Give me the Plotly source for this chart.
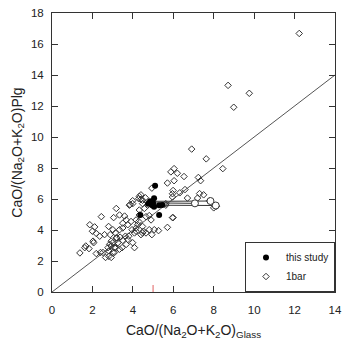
import plotly.graph_objects as go

# 1 bar experiments (open diamonds)
bar_x = [12.23, 8.71, 9.76, 8.99, 6.91, 7.63, 8.45, 6.04, 5.88, 6.2, 6.53, 7.24, 6.04, 5.71, 7.35,
         4.94, 5.99, 6.58, 6.32, 7.3, 7.5, 7.2, 4.32, 4.62, 3.99, 4.4, 6.7, 7.79, 8.14, 8.0,
         5.96, 5.96, 5.63, 5.96, 3.86, 4.29, 4.48, 4.4,
         1.38, 1.67, 1.83, 2.06, 1.87, 2.11, 2.0, 2.44, 2.19, 2.36, 2.6, 2.03, 2.52, 2.19, 2.81,
         2.65, 2.93, 2.77, 2.85, 2.93, 3.01, 3.18, 3.34, 3.05, 3.59, 3.67, 3.5, 3.91, 3.83, 2.8,
         3.01, 2.88, 3.14, 3.34, 3.5, 3.18, 3.37, 3.5, 3.01, 3.26, 2.93, 3.14, 3.34, 2.81, 3.09,
         3.67, 3.8, 4.08, 3.99, 4.08, 3.63, 3.75, 3.75, 3.96, 4.16, 4.32, 4.29, 4.48, 4.52, 4.65,
         4.81, 4.94, 5.06, 5.27, 4.81, 4.9, 4.57, 4.73, 5.63, 5.71, 5.99, 3.99, 4.48, 4.32, 4.16,
         4.65, 4.24, 4.16, 4.48, 4.4, 3.47, 3.21, 3.09, 2.4, 1.62]
bar_y = [16.68, 13.33, 12.82, 11.92, 9.22, 8.59, 7.96, 7.96, 7.75, 7.66, 7.45, 7.39, 7.18, 7.03, 7.18,
         6.7, 6.55, 6.61, 6.4, 6.35, 6.27, 6.06, 6.17, 6.08, 5.89, 5.98, 6.06, 5.89, 5.54, 5.43,
         6.13, 6.34, 5.7, 4.8, 5.64, 6.02, 5.92, 6.27,
         2.52, 2.97, 2.8, 3.18, 4.34, 4.2, 3.92, 4.86, 3.78, 3.6, 3.7, 3.28, 2.55, 2.48, 2.3,
         2.23, 2.23, 2.86, 3.07, 3.28, 2.55, 5.39, 4.97, 4.8, 4.9, 4.65, 4.44, 4.55, 5.6, 4.23,
         4.02, 3.7, 3.81, 4.02, 4.13, 3.49, 3.54, 3.33, 3.18, 3.18, 2.97, 2.86, 2.76, 2.65, 2.55,
         3.07, 3.6, 3.81, 3.18, 2.86, 3.6, 3.39, 4.34, 4.02, 4.13, 5.29, 4.55, 4.23, 3.92, 3.81,
         4.02, 3.7, 4.02, 3.96, 4.93, 4.65, 5.39, 5.6, 5.6, 4.17, 4.8, 5.7, 5.7, 4.97, 4.65,
         4.86, 4.34, 3.92, 3.81, 3.7, 2.86, 3.49, 2.86, 2.55, 2.86]

# this study (filled circles)
study_x = [5.1, 5.05, 4.85, 4.75, 4.95, 5.05, 5.3, 5.45, 5.3, 4.37, 5.0]
study_y = [6.85, 6.05, 5.85, 5.7, 5.6, 5.5, 5.6, 5.62, 4.97, 4.97, 5.75]

# tie lines from this-study points to open-circle glass compositions
tie_x0 = [4.85, 5.0, 4.95]
tie_y0 = [5.85, 5.75, 5.6]
tie_x1 = [7.84, 7.07, 8.1]
tie_y1 = [5.87, 5.72, 5.58]

# 1:1 line
line_x = [0, 14]
line_y = [0, 14]

# stray red tick mark on x axis
red_x = [5, 5]
red_y = [0, 0.45]

tie_lx, tie_ly = [], []
for a, b, c, d in zip(tie_x0, tie_y0, tie_x1, tie_y1):
    tie_lx += [a, c, None]
    tie_ly += [b, d, None]

fig = go.Figure()
fig.add_trace(go.Scatter(x=line_x, y=line_y, mode="lines",
                         line=dict(color="#555", width=1), showlegend=False, hoverinfo="skip"))
fig.add_trace(go.Scatter(x=tie_lx, y=tie_ly, mode="lines",
                         line=dict(color="#333", width=1), showlegend=False))
fig.add_trace(go.Scatter(x=bar_x, y=bar_y, mode="markers", name="1bar",
                         marker=dict(symbol="diamond-open", size=5, color="#333",
                                     line=dict(width=1, color="#333"))))
fig.add_trace(go.Scatter(x=tie_x1, y=tie_y1, mode="markers", showlegend=False,
                         marker=dict(symbol="circle", size=7, color="white",
                                     line=dict(width=1, color="#333"))))
fig.add_trace(go.Scatter(x=study_x, y=study_y, mode="markers", name="this study",
                         marker=dict(symbol="circle", size=6, color="black")))
fig.add_trace(go.Scatter(x=red_x, y=red_y, mode="lines",
                         line=dict(color="#e06060", width=1), showlegend=False))

fig.data[4].legendrank = 1
fig.data[2].legendrank = 2

axis_common = dict(
    showgrid=False, zeroline=False, showline=True, linecolor="#333", linewidth=1,
    mirror="ticks", ticks="inside", ticklen=6, tickcolor="#333", dtick=2,
    tickfont=dict(size=11.5, color="#222"),
)

fig.update_layout(
    width=349, height=343,
    margin=dict(l=52, r=12, t=7, b=51),
    paper_bgcolor="white", plot_bgcolor="white",
    font=dict(family="Liberation Sans, Arial, sans-serif", color="#222"),
    xaxis=dict(range=[0, 14], tick0=0, ticklabelstandoff=7,
               title=dict(text="CaO/(Na<sub>2</sub>O+K<sub>2</sub>O)<sub>Glass</sub>",
                          font=dict(size=14), standoff=10),
               **axis_common),
    yaxis=dict(range=[0, 18], tick0=0, ticklabelstandoff=5,
               title=dict(text="CaO/(Na<sub>2</sub>O+K<sub>2</sub>O)Plg",
                          font=dict(size=14), standoff=5),
               **axis_common),
    legend=dict(x=1, y=0, xanchor="right", yanchor="bottom",
                bordercolor="#333", borderwidth=1, bgcolor="white",
                font=dict(size=10), itemwidth=30, tracegroupgap=0),
    showlegend=True,
)

fig.write_html("out.html")
